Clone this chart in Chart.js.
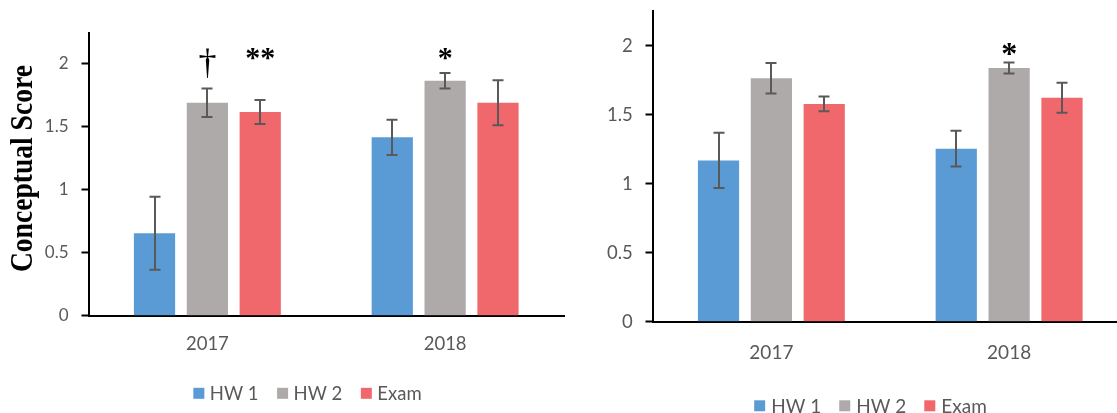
<!DOCTYPE html>
<html><head><meta charset="utf-8">
<script src="https://cdn.jsdelivr.net/npm/chart.js@4.4.0/dist/chart.umd.min.js"></script>
<style>
html,body{margin:0;padding:0;background:#fff;width:1117px;height:413px;overflow:hidden;position:relative;}
canvas{position:absolute;top:0;}
#cl{left:0;}
#cr{left:560px;}
</style></head><body>
<canvas id="cl" width="570" height="413"></canvas>
<canvas id="cr" width="580" height="413"></canvas>
<script>
// ---- data ----
const categories = ['2017', '2018'];
const seriesNames = ['HW 1', 'HW 2', 'Exam'];
const yTicks = [0, 0.5, 1, 1.5, 2];
const yTitle = 'Conceptual Score';

// left panel
const leftHW1 = [0.655, 1.417];
const leftHW2 = [1.692, 1.867];
const leftExam = [1.619, 1.692];
const leftHW1Err = [0.29, 0.14];
const leftHW2Err = [0.113, 0.061];
const leftExamErr = [0.095, 0.178];
const leftMarks = [
  { cat: 0, series: 1, text: '\u2020' },
  { cat: 0, series: 2, text: '**' },
  { cat: 1, series: 1, text: '*' }
];

// right panel
const rightHW1 = [1.169, 1.254];
const rightHW2 = [1.764, 1.838];
const rightExam = [1.578, 1.623];
const rightHW1Err = [0.2, 0.13];
const rightHW2Err = [0.11, 0.04];
const rightExamErr = [0.053, 0.108];
const rightMarks = [
  { cat: 1, series: 1, text: '*' }
];

// ---- styles ----
const COLORS = ['#5B9BD5', '#AEAAAA', '#F0686C'];
const TEXT = '#595959';

const errorBarPlugin = {
  id: 'errorBars',
  afterDatasetsDraw(chart) {
    const ctx = chart.ctx, ys = chart.scales.y;
    ctx.save();
    ctx.strokeStyle = '#595959';
    ctx.lineWidth = 2;
    chart.data.datasets.forEach((ds, i) => {
      const meta = chart.getDatasetMeta(i);
      meta.data.forEach((bar, j) => {
        const v = ds.data[j], e = ds.errors[j];
        const x = Math.round(bar.x);
        const yt = ys.getPixelForValue(v + e), yb = ys.getPixelForValue(v - e);
        ctx.beginPath();
        ctx.moveTo(x, yt); ctx.lineTo(x, yb);
        ctx.moveTo(x - 5.5, yt); ctx.lineTo(x + 5.5, yt);
        ctx.moveTo(x - 5.5, yb); ctx.lineTo(x + 5.5, yb);
        ctx.stroke();
      });
    });
    ctx.restore();
  }
};

const marksPlugin = {
  id: 'marks',
  afterDatasetsDraw(chart, args, opts) {
    const ctx = chart.ctx, ys = chart.scales.y;
    ctx.save();
    ctx.fillStyle = '#000';
    ctx.textAlign = 'center';
    ctx.textBaseline = 'alphabetic';
    const top = ys.getPixelForValue(opts.level);
    opts.items.forEach(m => {
      ctx.font = opts.fonts[m.text];
      const mt = ctx.measureText(m.text);
      const bar = chart.getDatasetMeta(m.series).data[m.cat];
      ctx.fillText(m.text, bar.x, top + mt.actualBoundingBoxAscent);
    });
    ctx.restore();
  }
};

const yTitlePlugin = {
  id: 'yTitle',
  afterDraw(chart, args, o) {
    if (!o.text) return;
    const ctx = chart.ctx, ca = chart.chartArea;
    ctx.save();
    ctx.font = o.font;
    ctx.fillStyle = '#000';
    ctx.textAlign = 'center';
    ctx.textBaseline = 'alphabetic';
    const w = ctx.measureText(o.text).width;
    ctx.translate(o.baselineX, (ca.top + ca.bottom) / 2 + o.shift);
    ctx.rotate(-Math.PI / 2);
    ctx.scale(o.length / w, 1);
    ctx.fillText(o.text, 0, 0);
    ctx.restore();
  }
};

const legendPlugin = {
  id: 'customLegend',
  afterDraw(chart, args, o) {
    const ctx = chart.ctx;
    ctx.save();
    ctx.font = o.fontSize + 'px Lato';
    const items = chart.data.datasets.map(d => ({ label: d.label, color: d.backgroundColor, w: ctx.measureText(d.label).width }));
    const total = items.reduce((s, it) => s + o.box + o.gap + it.w, 0) + o.itemGap * (items.length - 1);
    let x = o.cx - total / 2;
    ctx.textBaseline = 'middle';
    ctx.textAlign = 'left';
    items.forEach(it => {
      ctx.fillStyle = it.color;
      ctx.fillRect(x, o.cy - o.box / 2, o.box, o.box);
      x += o.box + o.gap;
      ctx.fillStyle = TEXT;
      ctx.fillText(it.label, x, o.cy + o.textDy);
      x += it.w + o.itemGap;
    });
    ctx.restore();
  }
};

function makeChart(id, vals, errs, marks, cfg) {
  const datasets = seriesNames.map((name, i) => ({
    label: name,
    data: vals[i],
    errors: errs[i],
    backgroundColor: COLORS[i],
    borderWidth: 0,
    barPercentage: 0.78,
    categoryPercentage: 0.667
  }));
  return new Chart(document.getElementById(id), {
    type: 'bar',
    data: { labels: categories, datasets },
    plugins: [errorBarPlugin, marksPlugin, yTitlePlugin, legendPlugin],
    options: {
      responsive: false,
      animation: false,
      devicePixelRatio: 1,
      layout: { padding: { left: 0, top: cfg.top, right: cfg.right, bottom: 0 } },
      plugins: {
        legend: { display: false },
        tooltip: { enabled: false },
        marks: { items: marks, level: cfg.markLevel, fonts: cfg.markFonts },
        yTitle: cfg.title,
        customLegend: cfg.legend
      },
      scales: {
        x: {
          grid: { display: false, drawTicks: false },
          border: { display: true, color: '#000', width: 2 },
          ticks: { color: TEXT, font: { family: 'Lato', size: cfg.xFont }, padding: cfg.xPad },
          afterFit(s) { s.height = cfg.xHeight; s.paddingLeft = 0; s.paddingRight = 0; }
        },
        y: {
          min: 0, max: 2.25,
          grid: { display: true, drawOnChartArea: false, drawTicks: true, tickLength: 7, tickColor: '#000', tickWidth: 2 },
          border: { display: true, color: '#000', width: 2 },
          ticks: { color: TEXT, font: { family: 'Lato', size: cfg.yFont }, padding: cfg.yPad,
                   callback: v => String(v) },
          afterBuildTicks(s) { s.ticks = yTicks.map(v => ({ value: v })); },
          afterFit(s) { s.width = cfg.yWidth; s.paddingTop = 0; s.paddingBottom = 0; }
        }
      }
    }
  });
}

makeChart('cl', [leftHW1, leftHW2, leftExam], [leftHW1Err, leftHW2Err, leftExamErr], leftMarks, {
  top: 32.5, right: 6, xHeight: 97.3, yWidth: 88.5,
  xFont: 18.5, xPad: 17, yFont: 17, yPad: 13,
  markLevel: 2.123,
  markFonts: { '*': 'bold 30px "Liberation Serif"', '**': 'bold 30px "Liberation Serif"', '\u2020': '36px "Liberation Serif"' },
  title: { text: yTitle, font: 'bold 32px "Liberation Serif"', baselineX: 31.5, length: 207, shift: -5.5 },
  legend: { cx: 307.5, cy: 393.3, box: 11, gap: 5.5, itemGap: 18.5, fontSize: 18.5, textDy: 1 }
});

makeChart('cr', [rightHW1, rightHW2, rightExam], [rightHW1Err, rightHW2Err, rightExamErr], rightMarks, {
  top: 11.2, right: 12, xHeight: 91.3, yWidth: 92.5,
  xFont: 19, xPad: 20, yFont: 18.5, yPad: 12.7,
  markLevel: 2.017,
  markFonts: { '*': 'bold 32px "Liberation Serif"' },
  title: { text: '' },
  legend: { cx: 310.5, cy: 405.8, box: 11, gap: 6, itemGap: 18, fontSize: 19, textDy: 1 }
});
</script>
</body></html>
